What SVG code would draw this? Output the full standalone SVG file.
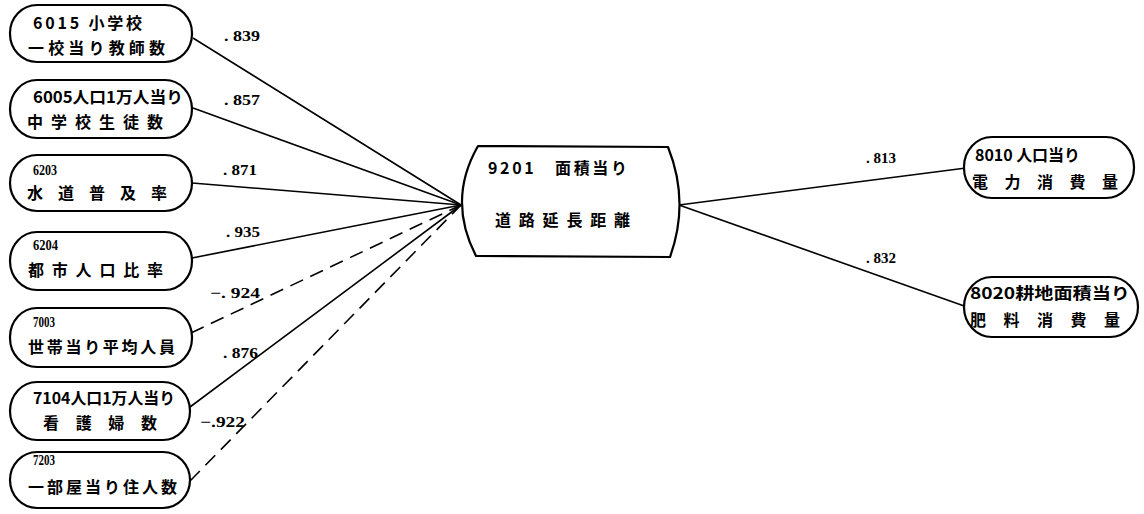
<svg xmlns="http://www.w3.org/2000/svg" width="1144" height="514" viewBox="0 0 1144 514">
<style>
.n{fill:#fff;stroke:#000;stroke-width:2.2}
.t{font-family:"Noto Sans CJK JP","Noto Sans CJK SC",sans-serif;font-weight:bold;font-size:16px;fill:#000}
.s{font-family:"Liberation Serif","Noto Sans CJK JP",serif;font-weight:bold;font-size:14px;fill:#000}
.c{stroke:#000;stroke-width:1.6;fill:none}
.dash{stroke-dasharray:14 8}
.l{font-family:"Liberation Serif",serif;font-weight:bold;font-size:15px;fill:#000}
</style>
<rect width="1144" height="514" fill="#fff"/>
<g id="connectors">
<line class="c" x1="193" y1="38" x2="461" y2="205"/>
<line class="c" x1="193" y1="108" x2="461" y2="205"/>
<line class="c" x1="192" y1="183" x2="461" y2="205"/>
<line class="c" x1="192" y1="258" x2="461" y2="205"/>
<line class="c dash" x1="191" y1="333" x2="461" y2="205"/>
<line class="c" x1="190" y1="407" x2="461" y2="205"/>
<line class="c dash" x1="190" y1="481" x2="461" y2="205"/>
<line class="c" x1="679" y1="205" x2="966" y2="168"/>
<line class="c" x1="679" y1="205" x2="967" y2="307"/>
<text class="l" x="224" y="41" textLength="36" lengthAdjust="spacingAndGlyphs">. 839</text>
<text class="l" x="224" y="105" textLength="36" lengthAdjust="spacingAndGlyphs">. 857</text>
<text class="l" x="223" y="175" textLength="34" lengthAdjust="spacingAndGlyphs">. 871</text>
<text class="l" x="226" y="237" textLength="34" lengthAdjust="spacingAndGlyphs">. 935</text>
<text class="l" x="210" y="298" textLength="50" lengthAdjust="spacingAndGlyphs">−. 924</text>
<text class="l" x="223" y="358" textLength="35" lengthAdjust="spacingAndGlyphs">. 876</text>
<text class="l" x="200" y="427" textLength="45" lengthAdjust="spacingAndGlyphs">−.922</text>
<text class="l" x="866" y="163" textLength="30" lengthAdjust="spacingAndGlyphs">. 813</text>
<text class="l" x="866" y="263" textLength="30" lengthAdjust="spacingAndGlyphs">. 832</text>
</g>
<g id="n6015">
<rect class="n" x="10" y="5" width="182" height="57" rx="27" ry="28"/>
<text class="t" x="33" y="29" textLength="109" lengthAdjust="spacing">6015 小学校</text>
<text class="t" x="28" y="54" textLength="137" lengthAdjust="spacing">一校当り教師数</text>
</g>
<g id="n6005">
<rect class="n" x="10" y="80" width="182" height="58" rx="27" ry="29"/>
<text class="t" x="33" y="103" textLength="150" lengthAdjust="spacingAndGlyphs">6005人口1万人当り</text>
<text class="t" x="27" y="128" textLength="136" lengthAdjust="spacing">中学校生徒数</text>
</g>
<g id="n6203">
<rect class="n" x="10" y="155" width="182" height="56" rx="27" ry="28"/>
<text class="s" x="33" y="175" textLength="24" lengthAdjust="spacingAndGlyphs">6203</text>
<text class="t" x="27" y="199" textLength="140" lengthAdjust="spacing">水道普及率</text>
</g>
<g id="n6204">
<rect class="n" x="10" y="232" width="182" height="58" rx="27" ry="29"/>
<text class="s" x="33" y="250" textLength="25" lengthAdjust="spacingAndGlyphs">6204</text>
<text class="t" x="28" y="276" textLength="135" lengthAdjust="spacing">都市人口比率</text>
</g>
<g id="n7003">
<rect class="n" x="10" y="308" width="182" height="59" rx="27" ry="29"/>
<text class="s" x="33" y="327" textLength="22" lengthAdjust="spacingAndGlyphs">7003</text>
<text class="t" x="28" y="353" textLength="147" lengthAdjust="spacing">世帯当り平均人員</text>
</g>
<g id="n7104">
<rect class="n" x="10" y="382" width="180" height="58" rx="27" ry="29"/>
<text class="t" x="33" y="404" textLength="142" lengthAdjust="spacingAndGlyphs">7104人口1万人当り</text>
<text class="t" x="43" y="429" textLength="114" lengthAdjust="spacing">看護婦数</text>
</g>
<g id="n7203">
<rect class="n" x="10" y="452" width="180" height="56" rx="27" ry="28"/>
<text class="s" x="33" y="465" textLength="22" lengthAdjust="spacingAndGlyphs">7203</text>
<text class="t" x="28" y="493" textLength="149" lengthAdjust="spacing">一部屋当り住人数</text>
</g>
<g id="n9201">
<path class="n" d="M478 146 L668 147 Q690 202 670 257 L476 256 Q447 200 478 146 Z" stroke-linejoin="round"/>
<text class="t" x="488" y="174" textLength="139" lengthAdjust="spacing" font-size="17">9201　面積当り</text>
<text class="t" x="495" y="226" textLength="135" lengthAdjust="spacing" font-size="17">道路延長距離</text>
</g>
<g id="n8010">
<rect class="n" x="964" y="137" width="170" height="61" rx="28" ry="30"/>
<text class="t" x="975" y="161" textLength="105" lengthAdjust="spacing">8010 人口当り</text>
<text class="t" x="972" y="188" textLength="146" lengthAdjust="spacing">電力消費量</text>
</g>
<g id="n8020">
<rect class="n" x="964" y="277" width="174" height="60" rx="28" ry="30"/>
<text class="t" x="970" y="299" textLength="160" lengthAdjust="spacingAndGlyphs">8020耕地面積当り</text>
<text class="t" x="970" y="326" textLength="150" lengthAdjust="spacing">肥料消費量</text>
</g>
</svg>
